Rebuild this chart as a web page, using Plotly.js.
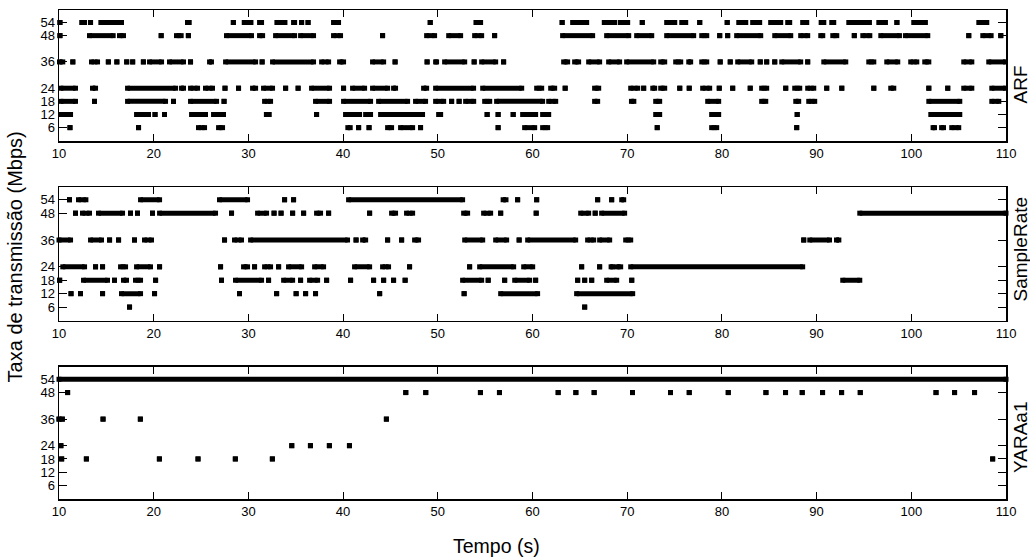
<!DOCTYPE html>
<html><head><meta charset="utf-8">
<script src="https://cdn.plot.ly/plotly-3.0.1.min.js"></script>
<style>body{margin:0;background:#fff}#chart{width:1030px;height:558px}</style>
</head><body><div id="chart"></div>
<script>
const rates = [6, 12, 18, 24, 36, 48, 54];
const xTicks = [10, 20, 30, 40, 50, 60, 70, 80, 90, 100, 110];
const panelNames = ['ARF', 'SampleRate', 'YARAa1'];

// ARF runs [start, end] per rate (s)
const arf54 = [[10.1,10.1],[12.4,12.7],[13.33,13.33],[14.42,16.6],[23.57,23.75],[28.41,28.41],[29.56,30.27],[31.18,31.39],[33.01,33.86],[34.77,34.88],[35.62,35.62],[36.3,36.3],[38.99,39.52],[49.2,49.2],[54.03,54.52],[63.13,63.13],[64.24,65.72],[67.58,68.68],[69.28,70.05],[71.59,71.59],[74.17,75.02],[75.76,76.18],[77.66,77.66],[80.56,80.56],[81.78,82.52],[83.25,83.99],[85.15,86.21],[86.95,87.16],[88.53,88.96],[90.48,90.76],[91.6,91.81],[93.4,95.58],[96.57,97.27],[98.48,98.48],[100.26,101.49],[107.13,107.97]];
const arf48 = [[10.1,10.1],[13.22,15.72],[16.39,16.81],[20.79,20.79],[22.41,22.9],[23.66,23.66],[27.69,30.33],[31.18,31.5],[32.87,34.88],[35.51,36.88],[38.99,39.73],[44.17,44.17],[48.82,49.66],[51.15,52.41],[53.89,54.63],[56.0,56.0],[63.18,66.35],[67.83,70.16],[71.0,72.59],[74.17,77.02],[77.87,78.4],[79.77,79.77],[80.61,80.61],[81.56,84.1],[85.58,87.27],[88.32,89.06],[90.44,90.65],[91.71,92.13],[93.98,93.98],[94.88,95.62],[96.78,98.75],[99.38,101.74],[106.07,106.07],[107.55,108.43],[109.45,109.45]];
const arf36 = [[10.05,10.4],[11.46,11.46],[13.43,14.07],[15.21,15.21],[16.11,16.11],[17.15,17.15],[17.78,17.78],[18.91,18.91],[19.56,20.83],[21.67,23.15],[23.89,23.89],[25.9,26.1],[27.59,30.76],[31.45,31.45],[32.55,36.88],[37.73,38.47],[39.63,40.05],[43.11,44.28],[45.49,45.49],[48.87,48.87],[49.77,49.87],[50.72,52.84],[53.84,53.84],[54.63,56.11],[56.95,56.95],[63.29,63.71],[64.45,64.87],[65.93,67.09],[68.04,69.2],[69.94,72.8],[73.54,73.96],[75.12,75.65],[76.5,76.7],[77.87,78.4],[79.82,79.82],[80.88,80.88],[81.67,83.15],[84.05,84.05],[84.73,84.73],[85.58,85.58],[86.32,88.32],[89.06,89.06],[90.76,93.08],[95.51,96.04],[97.41,98.57],[99.94,100.58],[101.42,101.85],[105.54,106.39],[108.18,109.94]];
const arf24 = [[10.2,11.74],[13.54,13.86],[17.24,22.31],[22.94,23.15],[23.89,24.63],[25.47,26.21],[27.53,27.53],[28.96,28.96],[30.44,30.76],[31.6,32.55],[33.93,33.93],[35.25,35.25],[36.67,38.57],[40.05,40.05],[41.0,42.27],[43.11,44.7],[45.33,45.54],[48.5,48.82],[49.77,53.78],[54.74,58.86],[60.44,60.97],[61.92,62.34],[63.45,63.45],[66.56,66.99],[70.37,71.11],[71.74,71.74],[72.7,72.9],[73.54,73.96],[75.55,75.55],[76.55,76.55],[77.97,78.71],[79.72,79.72],[81.14,81.14],[82.99,82.99],[84.2,84.73],[86.74,86.74],[87.69,88.22],[89.06,89.7],[91.07,91.07],[92.66,92.66],[96.04,96.04],[97.83,98.15],[101.85,101.85],[103.85,103.85],[105.54,106.39],[108.5,109.94]];
const arf18 = [[10.2,11.74],[13.75,13.75],[17.24,21.25],[22.09,22.09],[23.89,26.64],[27.43,27.43],[31.71,32.34],[37.09,38.57],[40.05,42.9],[43.75,46.81],[47.65,48.71],[49.77,50.62],[51.46,51.46],[52.25,52.25],[52.94,53.79],[54.95,55.48],[56.21,61.07],[61.71,62.45],[66.56,66.88],[70.45,70.7],[73.01,73.43],[78.5,79.66],[84.2,84.63],[87.8,88.11],[89.17,89.8],[101.85,105.12],[108.5,109.24]];
const arf12 = [[10.2,11.22],[18.19,19.45],[20.14,20.14],[21.14,21.14],[24.0,25.47],[26.32,27.37],[31.9,32.2],[37.2,37.2],[40.26,41.74],[42.38,42.9],[43.96,48.39],[50.09,50.3],[55.21,55.21],[56.37,56.37],[57.96,57.96],[58.96,60.33],[61.07,61.71],[73.01,73.43],[78.92,79.66],[87.95,87.95],[102.06,105.12]];
const arf6 = [[11.16,11.16],[18.4,18.4],[24.73,25.37],[26.85,27.27],[40.5,40.75],[41.64,41.64],[42.74,42.74],[44.7,45.12],[46.07,47.34],[48.18,48.18],[56.37,56.37],[59.17,60.23],[61.07,61.6],[73.17,73.17],[78.92,79.45],[87.9,87.9],[102.3,102.45],[103.2,103.4],[104.27,105.01]];

// SampleRate runs
const sr54 = [[11.11,11.11],[12.06,12.84],[18.61,20.62],[26.95,29.91],[33.82,33.82],[34.77,34.77],[40.58,52.62],[56.9,57.2],[58.43,58.43],[60.44,60.44],[66.88,66.88],[68.36,68.36],[69.42,69.63]];
const sr48 = [[11.74,11.74],[12.48,13.22],[14.17,16.71],[17.55,17.55],[18.29,18.29],[19.87,19.87],[20.62,26.53],[28.22,28.22],[30.97,31.92],[32.71,32.71],[33.45,33.45],[34.67,34.67],[35.83,35.83],[37.2,37.62],[38.47,38.47],[42.8,42.8],[45.12,45.54],[46.7,47.34],[52.73,53.15],[54.84,55.58],[56.64,56.64],[60.39,60.39],[65.09,65.93],[66.62,66.62],[67.3,69.73],[94.56,110]];
const sr36 = [[10.0,11.22],[13.33,14.49],[15.34,15.34],[16.29,16.29],[17.97,17.97],[19.03,19.77],[27.48,27.48],[28.53,29.27],[30.23,40.47],[41.37,41.37],[42.06,42.38],[44.7,44.7],[46.18,46.18],[47.55,47.97],[52.84,54.74],[56.11,57.27],[58.59,58.59],[59.49,64.56],[65.82,66.46],[67.09,68.15],[69.84,70.37],[88.64,88.64],[89.28,91.36],[92.1,92.35]];
const sr24 = [[10.4,12.7],[13.86,13.86],[14.6,14.6],[16.5,17.03],[18.19,19.66],[20.62,20.62],[27.06,27.06],[29.49,29.91],[30.65,30.65],[31.71,32.34],[33.19,33.19],[34.24,35.62],[36.99,37.94],[41.21,42.8],[44.17,44.8],[47.02,47.02],[53.36,53.36],[54.42,58.01],[59.07,60.02],[65.19,65.19],[67.09,67.09],[68.3,68.45],[68.9,69.31],[70.37,88.53]];
const sr18 = [[10.07,10.07],[12.59,15.12],[15.86,15.86],[16.81,17.13],[18.08,18.61],[20.2,20.2],[27.16,27.16],[28.64,31.39],[32.13,32.13],[33.72,34.67],[35.51,35.51],[36.46,37.31],[38.26,38.26],[40.79,40.79],[43.22,43.22],[44.28,44.28],[45.33,45.33],[46.55,46.55],[52.62,54.63],[55.32,55.32],[57.06,57.06],[58.12,59.7],[60.33,60.33],[64.77,64.77],[65.51,65.51],[66.25,66.25],[67.83,68.89],[70.48,70.48],[92.76,94.56]];
const sr12 = [[11.27,11.27],[12.27,12.27],[14.6,14.6],[16.6,18.61],[20.09,20.09],[29.06,29.06],[32.98,32.98],[35.04,35.04],[36.04,36.04],[37.09,37.09],[43.86,43.86],[52.78,52.78],[56.64,60.54],[64.66,70.58]];
const sr6 = [[17.45,17.45],[65.51,65.51]];

// YARAa1 runs
const ya54 = [[10,110]];
const ya48 = [[10.91,10.91],[46.62,46.62],[48.73,48.73],[54.5,54.5],[56.51,56.51],[62.71,62.71],[64.58,64.58],[66.51,66.51],[70.56,70.56],[74.57,74.57],[76.55,76.55],[80.67,80.67],[84.65,84.65],[86.72,86.72],[88.48,88.48],[90.63,90.63],[92.64,92.64],[94.61,94.61],[102.61,102.61],[104.57,104.57],[106.68,106.68]];
const ya36 = [[10.0,10.0],[10.35,10.35],[14.65,14.65],[18.59,18.59],[44.57,44.57]];
const ya24 = [[10.2,10.2],[34.58,34.58],[36.55,36.55],[38.55,38.55],[40.67,40.67]];
const ya18 = [[10.28,10.28],[12.89,12.89],[20.6,20.6],[24.68,24.68],[28.62,28.62],[32.53,32.53],[108.59,108.59]];
const ya12 = [];
const ya6 = [];

const panels = [
  [arf6, arf12, arf18, arf24, arf36, arf48, arf54],
  [sr6, sr12, sr18, sr24, sr36, sr48, sr54],
  [ya6, ya12, ya18, ya24, ya36, ya48, ya54]
];

const traces = [];
panels.forEach((rows, p) => {
  const x = [], y = [];
  rows.forEach((runs, r) => {
    runs.forEach(([a, b]) => { x.push(a, b, null); y.push(rates[r], rates[r], null); });
  });
  traces.push({
    type: 'scatter', mode: 'lines+markers', x, y,
    xaxis: p === 0 ? 'x' : 'x' + (p + 1), yaxis: p === 0 ? 'y' : 'y' + (p + 1),
    line: {color: '#000', width: 5},
    marker: {symbol: 'square', size: 5, color: '#000'},
    cliponaxis: false, showlegend: false, hoverinfo: 'skip', connectgaps: false
  });
});

const FONT = 'Liberation Sans, Arial, Helvetica, sans-serif';
const domains = [[0.7321, 1], [0.3646, 0.638], [0, 0.2706]];
const layout = {
  width: 1030, height: 558,
  margin: {l: 59, r: 24, t: 10, b: 59},
  paper_bgcolor: '#fff', plot_bgcolor: '#fff',
  font: {family: FONT, color: '#000', size: 13},
  showlegend: false,
  annotations: []
};
const labelY = [0.8487, 0.5112, 0.1258];
for (let p = 0; p < 3; p++) {
  const sx = p === 0 ? '' : String(p + 1);
  layout['xaxis' + sx] = {
    anchor: 'y' + sx, domain: [0, 1], range: [10, 110],
    tickmode: 'array', tickvals: xTicks, ticktext: xTicks.map(String),
    ticks: 'inside', ticklen: 7, tickwidth: 1, tickcolor: '#000',
    showline: true, mirror: 'ticks', linecolor: '#000', linewidth: 1.5,
    showgrid: false, zeroline: false,
    tickfont: {family: FONT, size: 13, color: '#000'}
  };
  layout['yaxis' + sx] = {
    anchor: 'x' + sx, domain: domains[p], range: [-0.1, 59.7],
    tickmode: 'array', tickvals: rates, ticktext: rates.map(String),
    ticks: 'inside', ticklen: 8, tickwidth: 1, tickcolor: '#000',
    showline: true, mirror: 'ticks', linecolor: '#000', linewidth: 1.5,
    showgrid: false, zeroline: false,
    tickfont: {family: FONT, size: 13, color: '#000'}
  };
  layout.annotations.push({
    text: panelNames[p], xref: 'paper', yref: 'paper', x: 1.0153, y: labelY[p],
    xanchor: 'center', yanchor: 'middle', textangle: -90, showarrow: false,
    font: {family: FONT, size: 19, color: '#000'}
  });
}
layout.annotations.push({
  text: 'Taxa de transmissão (Mbps)', xref: 'paper', yref: 'paper', x: -0.0465, y: 0.496,
  xanchor: 'center', yanchor: 'middle', textangle: -90, showarrow: false,
  font: {family: FONT, size: 20, color: '#000'}
});
layout.annotations.push({
  text: 'Tempo (s)', xref: 'paper', yref: 'paper', x: 0.4625, y: -0.0961,
  xanchor: 'center', yanchor: 'middle', showarrow: false,
  font: {family: FONT, size: 19.5, color: '#000'}
});

Plotly.newPlot('chart', traces, layout, {displayModeBar: false, staticPlot: true});
</script>
</body></html>
